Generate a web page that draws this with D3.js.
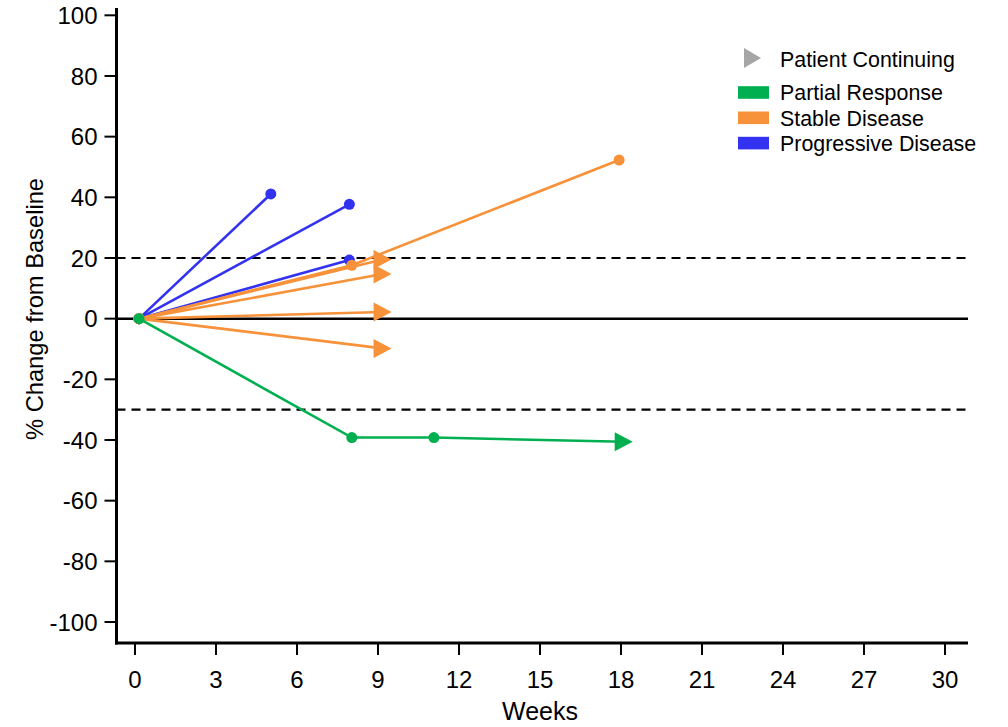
<!DOCTYPE html>
<html>
<head>
<meta charset="utf-8">
<script src="https://cdn.jsdelivr.net/npm/d3@7/dist/d3.min.js"></script>
<style>
  body { margin: 0; background: #fff; }
  svg text { font-family: "Liberation Sans", Arial, sans-serif; fill: #000; }
</style>
</head>
<body>
<div id="chart"></div>
<script>
// response categories and colours (legend order)
var categories = ["Partial Response", "Stable Disease", "Progressive Disease"];
var categoryColors = ["#00b050", "#f7923a", "#3232f0"];

// one entry per patient: response, weeks, % change, still on study
var patientResponse = ["Progressive Disease", "Progressive Disease", "Progressive Disease",
  "Stable Disease", "Stable Disease", "Stable Disease", "Stable Disease", "Stable Disease",
  "Partial Response"];
var patientWeeks = [
  [0.15, 5.03],
  [0.15, 7.94],
  [0.15, 7.94],
  [0.15, 8.03, 17.93],
  [0.15, 9.17],
  [0.15, 9.17],
  [0.15, 9.17],
  [0.15, 9.17],
  [0.15, 8.03, 11.07, 18.1]
];
var patientChange = [
  [0, 41.1],
  [0, 37.7],
  [0, 19.3],
  [0, 17.6, 52.3],
  [0, 19.5],
  [0, 14.7],
  [0, 2.2],
  [0, -9.8],
  [0, -39.2, -39.2, -40.6]
];
var patientContinuing = [false, false, false, false, true, true, true, true, true];

var xTicks = [0, 3, 6, 9, 12, 15, 18, 21, 24, 27, 30];
var yTicks = [100, 80, 60, 40, 20, 0, -20, -40, -60, -80, -100];
var refLines = [20, -30];

var width = 1008, height = 727;

var svg = d3.select("#chart").append("svg")
  .attr("width", width)
  .attr("height", height);

var xScale = d3.scaleLinear().domain([0, 30]).range([135, 945]);
var yScale = d3.scaleLinear().domain([100, -100]).range([15.3, 622]);
var color = d3.scaleOrdinal().domain(categories).range(categoryColors);

var xLeft = 116.5, xRight = 968, yBottom = 643, yTop = 8;

// reference lines
svg.selectAll(".ref")
  .data(refLines)
  .enter().append("line")
  .attr("x1", xLeft).attr("x2", xRight)
  .attr("y1", function(d) { return yScale(d); })
  .attr("y2", function(d) { return yScale(d); })
  .attr("stroke", "#000")
  .attr("stroke-width", 2.2)
  .attr("stroke-dasharray", "9,6");

svg.append("line")
  .attr("x1", xLeft).attr("x2", xRight)
  .attr("y1", yScale(0)).attr("y2", yScale(0))
  .attr("stroke", "#000")
  .attr("stroke-width", 2.5);

// axes
var yAxis = svg.append("g")
  .attr("transform", "translate(" + xLeft + ",0)");
yAxis.append("line")
  .attr("x1", 0).attr("x2", 0)
  .attr("y1", yTop).attr("y2", yBottom + 1.5)
  .attr("stroke", "#000").attr("stroke-width", 3);
var yt = yAxis.selectAll(".ytick")
  .data(yTicks)
  .enter().append("g")
  .attr("transform", function(d) { return "translate(0," + yScale(d) + ")"; });
yt.append("line")
  .attr("x1", -12).attr("x2", 0)
  .attr("stroke", "#000").attr("stroke-width", 2);
yt.append("text")
  .attr("x", -19)
  .attr("dy", "0.36em")
  .attr("text-anchor", "end")
  .attr("font-size", 24)
  .text(function(d) { return d; });

var xAxis = svg.append("g")
  .attr("transform", "translate(0," + yBottom + ")");
xAxis.append("line")
  .attr("x1", xLeft - 1.5).attr("x2", xRight)
  .attr("y1", 0).attr("y2", 0)
  .attr("stroke", "#000").attr("stroke-width", 3);
var xt = xAxis.selectAll(".xtick")
  .data(xTicks)
  .enter().append("g")
  .attr("transform", function(d) { return "translate(" + xScale(d) + ",0)"; });
xt.append("line")
  .attr("y1", 0).attr("y2", 12)
  .attr("stroke", "#000").attr("stroke-width", 2);
xt.append("text")
  .attr("y", 45)
  .attr("text-anchor", "middle")
  .attr("font-size", 24)
  .text(function(d) { return d; });

svg.append("text")
  .attr("x", 540)
  .attr("y", 720)
  .attr("text-anchor", "middle")
  .attr("font-size", 25)
  .text("Weeks");

svg.append("text")
  .attr("transform", "translate(43,309) rotate(-90)")
  .attr("text-anchor", "middle")
  .attr("font-size", 23.7)
  .text("% Change from Baseline");

// patient lines, drawn PD first then SD then PR
var patients = patientResponse.map(function(r, i) {
  return {
    response: r,
    points: patientWeeks[i].map(function(w, j) { return [w, patientChange[i][j]]; }),
    continuing: patientContinuing[i]
  };
});
var drawOrder = ["Progressive Disease", "Stable Disease", "Partial Response"];
patients.sort(function(a, b) { return drawOrder.indexOf(a.response) - drawOrder.indexOf(b.response); });

var line = d3.line()
  .x(function(d) { return xScale(d[0]); })
  .y(function(d) { return yScale(d[1]); });

var triangle = "M-9,-9.5L9,0L-9,9.5Z";

patients.forEach(function(p) {
  var g = svg.append("g");
  var c = color(p.response);
  g.append("path")
    .attr("d", line(p.points))
    .attr("fill", "none")
    .attr("stroke", c)
    .attr("stroke-width", 2.6);
  var last = p.points.length - 1;
  g.selectAll("circle")
    .data(p.points.filter(function(d, j) { return !(p.continuing && j == last); }))
    .enter().append("circle")
    .attr("cx", function(d) { return xScale(d[0]); })
    .attr("cy", function(d) { return yScale(d[1]); })
    .attr("r", 5.5)
    .attr("fill", c);
  if (p.continuing) {
    g.append("path")
      .attr("d", triangle)
      .attr("transform", "translate(" + xScale(p.points[last][0]) + "," + yScale(p.points[last][1]) + ")")
      .attr("fill", c);
  }
});

// legend
var legend = svg.append("g");
legend.append("path")
  .attr("d", "M-8.5,-10L8.5,0L-8.5,10Z")
  .attr("transform", "translate(752.5,58)")
  .attr("fill", "#a6a6a6");
legend.append("text")
  .attr("x", 780).attr("y", 59)
  .attr("dy", "0.36em")
  .attr("font-size", 21.4)
  .text("Patient Continuing");

var items = legend.selectAll(".item")
  .data(categories)
  .enter().append("g")
  .attr("transform", function(d, i) { return "translate(0," + (92.5 + i * 25.3) + ")"; });
items.append("rect")
  .attr("x", 738).attr("y", -6.3)
  .attr("width", 31).attr("height", 12.6)
  .attr("fill", function(d) { return color(d); });
items.append("text")
  .attr("x", 780)
  .attr("dy", "0.36em")
  .attr("font-size", 21.4)
  .text(function(d) { return d; });
</script>
</body>
</html>
